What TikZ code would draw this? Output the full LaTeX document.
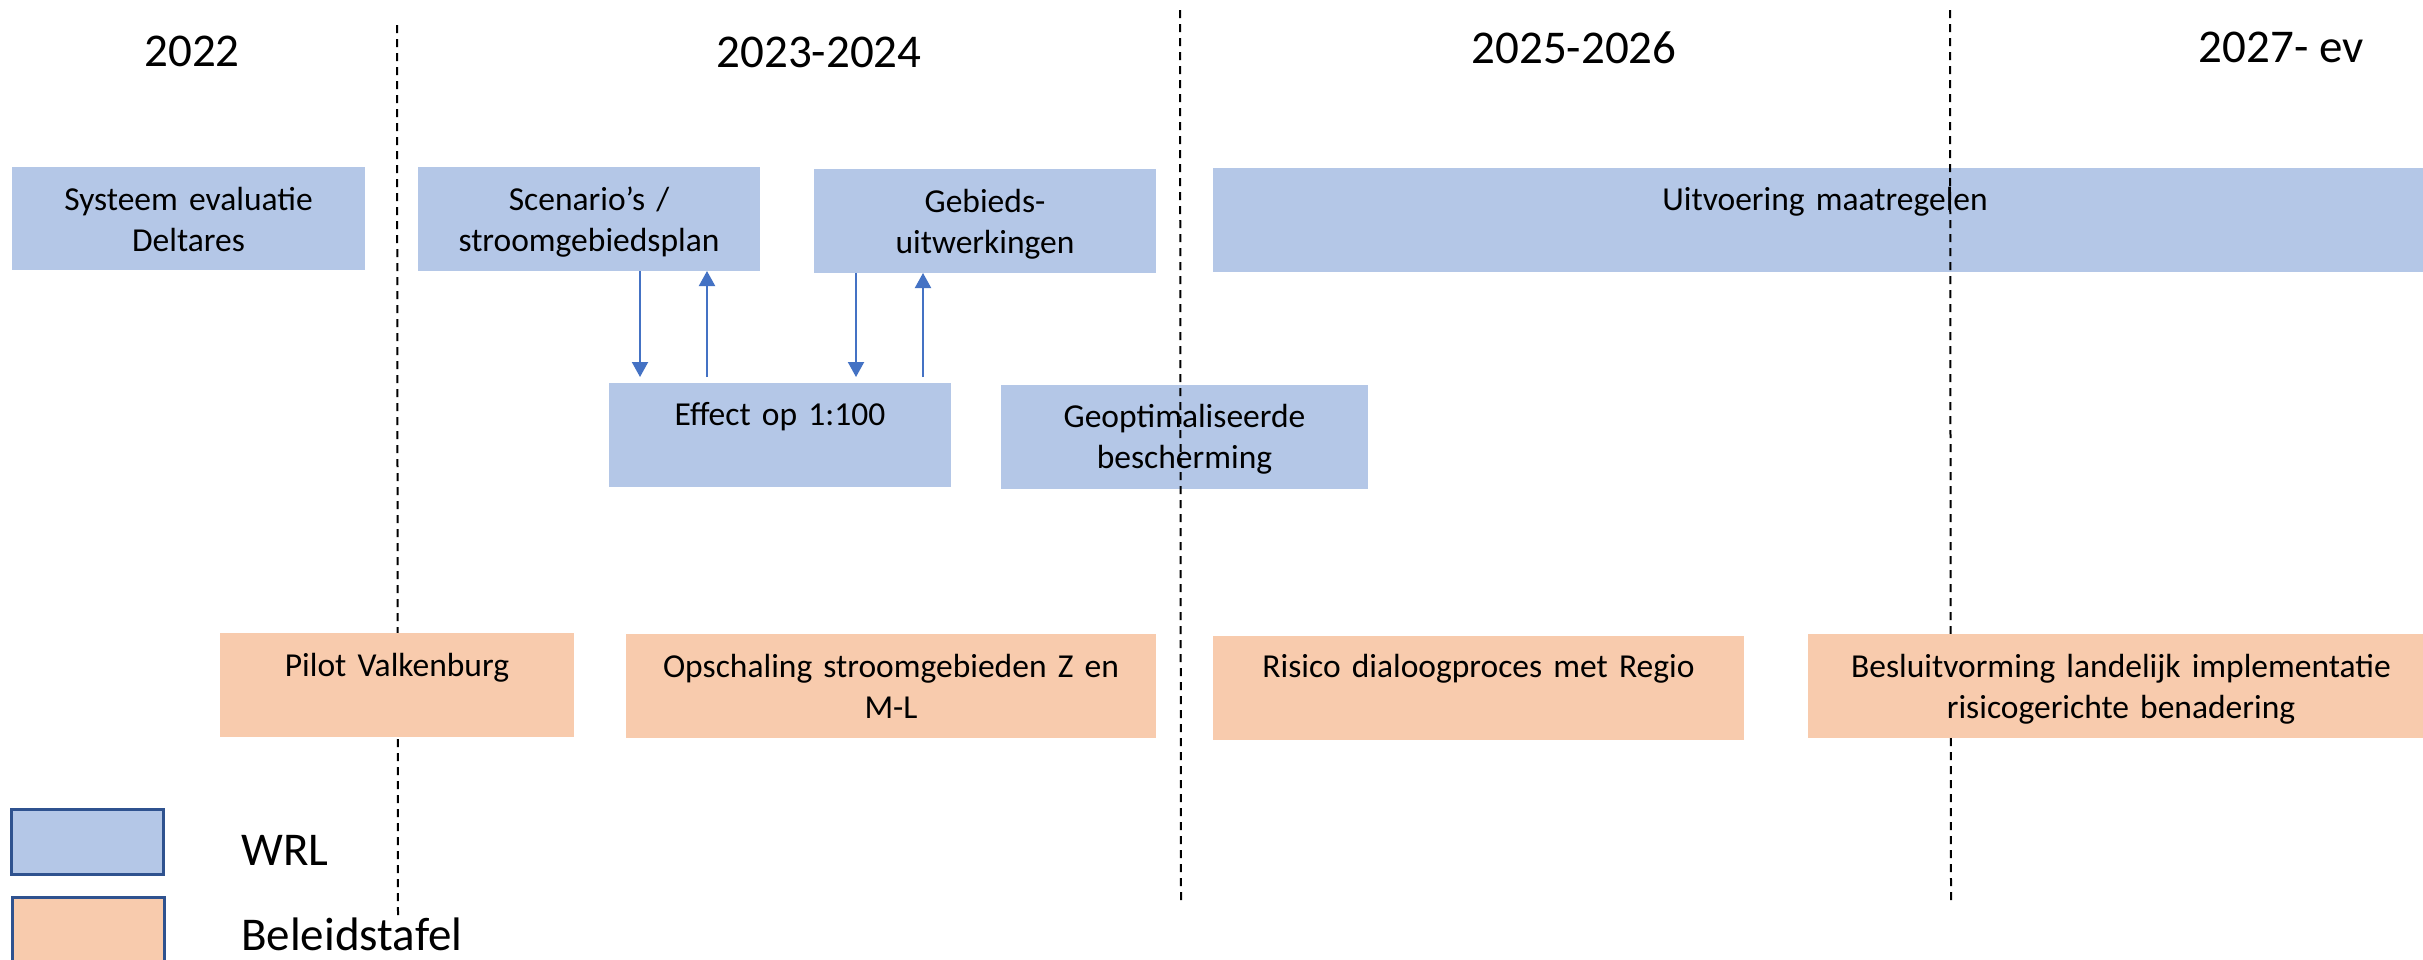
\documentclass[tikz,border=0pt]{standalone}
\usepackage{fontspec}
\setmainfont{Carlito}
\usetikzlibrary{arrows.meta}
\definecolor{wrlblue}{HTML}{B4C7E7}
\definecolor{beleid}{HTML}{F8CBAD}
\definecolor{legborder}{HTML}{2F528F}
\definecolor{arrowblue}{HTML}{4472C4}
\tikzset{
  box/.style={inner sep=0pt, outer sep=0pt, draw=none, anchor=north west},
  wrlbox/.style={box, fill=wrlblue},
  belbox/.style={box, fill=beleid},
  boxtext/.style={anchor=base, inner sep=0pt, align=center, text width=#1,
    font=\fontsize{33.5}{41}\selectfont},
  boxtext/.default=330pt,
  year/.style={anchor=base, inner sep=0pt, font=\fontsize{47}{56}\selectfont},
  legtext/.style={anchor=base west, inner sep=0pt, font=\fontsize{47}{56}\selectfont},
  legbox/.style={box, draw=legborder, line width=3pt},
  divider/.style={draw=black, line width=2pt, dash pattern=on 8pt off 6pt},
  arr/.style={draw=arrowblue, line width=2pt, -{Triangle[width=16pt,length=15pt]}}
}
\newcommand{\boxat}[6]{% style, name, x1, y1, x2, y2
  \path (#3,#4) node[#1, minimum width={(#5-#3)*1pt}, minimum height={(#6-#4)*1pt}] (#2) {};}
\begin{document}
\begin{tikzpicture}[x=1pt,y=-1pt]
\clip (0,0) rectangle (2423,959);
\fill[white] (0,0) rectangle (2423,959);

% year labels
\node[year] (y1) at (192,66) {2022};
\node[year] (y2) at (819,67) {2023-2024};
\node[year] (y3) at (1574,63) {2025-2026};
\node[year] (y4) at (2281,62) {2027- ev};

% WRL boxes
\boxat{wrlbox}{sys}{12}{167}{365}{270}
\boxat{wrlbox}{scen}{418}{167}{760}{271}
\boxat{wrlbox}{geb}{814}{169}{1156}{273}
\boxat{wrlbox}{eff}{609}{383}{951}{487}
\boxat{wrlbox}{geo}{1001}{385}{1368}{489}
\boxat{wrlbox}{uit}{1213}{168}{2437}{272}

\node[boxtext] (tsys) at ([yshift=-43pt]sys.north) {Systeem evaluatie\\Deltares};
\node[boxtext] (tscen) at ([yshift=-43pt]scen.north) {Scenario’s /\\stroomgebiedsplan};
\node[boxtext] (tgeb) at ([yshift=-43pt]geb.north) {Gebieds-\\uitwerkingen};
\node[boxtext] (teff) at ([yshift=-42pt]eff.north) {Effect op 1:100};
\node[boxtext] (tgeo) at ([yshift=-42pt]geo.north) {Geoptimaliseerde\\bescherming};
\node[boxtext] (tuit) at ([yshift=-42pt]uit.north) {Uitvoering maatregelen};

% arrows
\coordinate (a1) at ([xshift=51pt]scen.south);
\coordinate (a2) at ([xshift=118pt]scen.south);
\coordinate (a3) at ([xshift=-129pt]geb.south);
\coordinate (a4) at ([xshift=-62pt]geb.south);
\draw[arr, shorten >=6pt] (a1) -- (a1 |- eff.north);
\draw[arr, shorten <=6pt] (a2 |- eff.north) -- (a2);
\draw[arr, shorten >=6pt] (a3) -- (a3 |- eff.north);
\draw[arr, shorten <=6pt] (a4 |- eff.north) -- (a4);

% dividers
\coordinate (d1t) at (397,25);  \coordinate (d1b) at (398,915);
\coordinate (d2t) at (1180,10); \coordinate (d2b) at (1181,902);
\coordinate (d3t) at (1950,10); \coordinate (d3b) at (1951,900);
\draw[divider] (d1t) -- (d1b);
\draw[divider] (d2t) -- (d2b);
\draw[divider] (d3t) -- (d3b);

% Beleidstafel boxes
\boxat{belbox}{pil}{220}{633}{574}{737}
\boxat{belbox}{ops}{626}{634}{1156}{738}
\boxat{belbox}{ris}{1213}{636}{1744}{740}
\boxat{belbox}{bes}{1808}{634}{2434}{738}

\node[boxtext] (tpil) at ([yshift=-43pt]pil.north) {Pilot Valkenburg};
\node[boxtext=520pt] (tops) at ([yshift=-43pt]ops.north) {Opschaling stroomgebieden Z en\\M-L};
\node[boxtext=520pt] (tris) at ([yshift=-41pt]ris.north) {Risico dialoogproces met Regio};
\node[boxtext=600pt] (tbes) at ([yshift=-43pt]bes.north) {Besluitvorming landelijk implementatie\\risicogerichte benadering};

% legend
\boxat{legbox, fill=wrlblue}{lw}{11}{809}{163}{874}
\boxat{legbox, fill=beleid}{lb}{12}{897}{164}{962}
\node[legtext] (lwt) at (241,865) {WRL};
\node[legtext] (lbt) at (241,950) {Beleidstafel};
\end{tikzpicture}
\end{document}
